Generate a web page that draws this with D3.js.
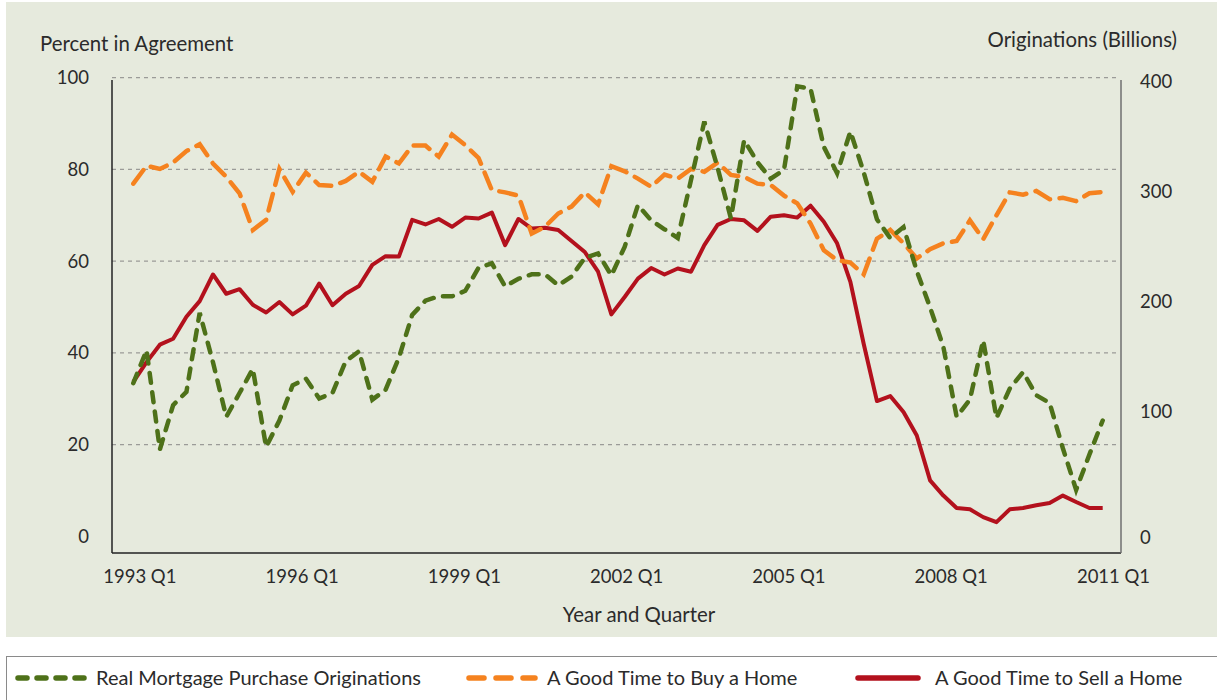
<!DOCTYPE html>
<html>
<head>
<meta charset="utf-8">
<script src="https://cdn.jsdelivr.net/npm/d3@7"></script>
<style>
  body { margin: 0; background: #ffffff; }
  text { font-family: Lato, "Open Sans", sans-serif; fill: #2b2b2b; }
</style>
</head>
<body>
<div id="chart"></div>
<script>
// quarters 1993 Q1 .. 2011 Q2
var years = d3.range(1993, 2012);
var quarters = [];
years.forEach(function(y) {
    [1, 2, 3, 4].forEach(function(q) {
        if (y < 2011 || q <= 2) quarters.push(y + " Q" + q);
    });
});

// Real Mortgage Purchase Originations (billions, right axis)
var originations = [
    126, 156, 70, 106, 118, 190, 145, 96, 117, 139,
    72, 93, 124, 130, 112, 117, 146, 155, 111, 120,
    149, 188, 201, 205, 205, 210, 231, 235, 214, 221,
    225, 225, 215, 223, 240, 244, 224, 250, 288, 274,
    266, 258, 311, 364, 322, 276, 347, 327, 312, 320,
    396, 394, 341, 317, 355, 318, 275, 258, 268, 228,
    195, 159, 96, 111, 165, 95, 121, 136, 115, 108,
    71, 38, 66, 93
];

// A Good Time to Buy a Home (percent)
var buyHome = [
    76.9, 80.8, 80.1, 81.5, 84.0, 85.5, 81.3, 78.4, 74.8, 66.8,
    69.0, 80.1, 75.1, 79.3, 76.6, 76.4, 77.5, 79.5, 77.3, 82.8,
    81.3, 85.2, 85.2, 82.8, 87.6, 85.3, 82.5, 75.5, 75.0, 74.3,
    66.0, 67.5, 70.4, 71.9, 75.0, 72.4, 80.7, 79.6, 78.0, 76.2,
    78.9, 78.0, 80.1, 79.5, 81.5, 78.8, 78.4, 76.9, 76.6, 74.3,
    72.6, 68.2, 62.4, 60.2, 59.7, 57.1, 64.9, 66.8, 63.9, 60.6,
    62.6, 63.9, 64.4, 68.9, 64.8, 70.0, 75.0, 74.5, 75.3, 73.5,
    73.8, 73.1, 74.8, 75.1
];

// A Good Time to Sell a Home (percent)
var sellHome = [
    33.7, 38.0, 41.8, 43.1, 47.9, 51.3, 57.1, 52.9, 53.9, 50.5,
    48.8, 51.1, 48.4, 50.3, 55.1, 50.4, 52.9, 54.6, 59.2, 61.1,
    61.0, 69.0, 68.0, 69.2, 67.5, 69.5, 69.3, 70.6, 63.5, 69.2,
    67.1, 67.3, 66.8, 64.4, 62.0, 57.7, 48.4, 52.2, 56.2, 58.5,
    57.1, 58.4, 57.7, 63.5, 67.9, 69.2, 68.9, 66.6, 69.7, 70.0,
    69.5, 72.1, 68.6, 63.9, 55.5, 42.0, 29.5, 30.6, 27.1, 22.0,
    12.2, 8.9, 6.2, 5.9, 4.2, 3.1, 5.9, 6.2, 6.8, 7.3,
    8.9, 7.5, 6.2, 6.2
];

var leftTicks = [0, 20, 40, 60, 80, 100];
var rightTicks = [0, 100, 200, 300, 400];
var xTickYears = [1993, 1996, 1999, 2002, 2005, 2008, 2011];

var seriesNames = [
    "Real Mortgage Purchase Originations",
    "A Good Time to Buy a Home",
    "A Good Time to Sell a Home"
];

makePlot();

function makePlot() {
    var svgWidth = 1217;
    var svgHeight = 700;

    var green = "#4e7119";
    var orange = "#f5821f";
    var red = "#b3111d";

    var svg = d3.select("#chart")
        .append("svg")
        .attr("width", svgWidth)
        .attr("height", svgHeight);

    // panel background
    svg.append("rect")
        .attr("x", 6)
        .attr("y", 2)
        .attr("width", svgWidth - 6)
        .attr("height", 635)
        .attr("fill", "#e6eadd");

    var plotLeft = 112, plotRight = 1121, plotTop = 80, plotBottom = 553;

    var xScale = d3.scalePoint()
        .domain(quarters)
        .range([133.3, 1102.7]);

    // label positions of the year axis
    var xLabelScale = d3.scaleLinear()
        .domain([1993, 2011])
        .range([139.3, 1113]);

    var yLeft = d3.scaleLinear()
        .domain([0, 100])
        .range([536.4, 77.7]);

    var yRight = d3.scaleLinear()
        .domain([0, 100, 400])
        .range([537.7, 411.7, 82]);

    // gridlines
    svg.append("g")
        .selectAll("line")
        .data(leftTicks.filter(d => d > 0))
        .enter()
        .append("line")
        .attr("x1", plotLeft)
        .attr("x2", 1119)
        .attr("y1", d => yLeft(d))
        .attr("y2", d => yLeft(d))
        .attr("stroke", "#9b9b98")
        .attr("stroke-width", 1.2)
        .attr("stroke-dasharray", "4,4");

    // axis lines
    svg.append("line")
        .attr("x1", plotLeft).attr("x2", plotLeft)
        .attr("y1", plotTop).attr("y2", plotBottom)
        .attr("stroke", "#222").attr("stroke-width", 1.5);
    svg.append("line")
        .attr("x1", plotLeft).attr("x2", plotRight)
        .attr("y1", plotBottom).attr("y2", plotBottom)
        .attr("stroke", "#222").attr("stroke-width", 1.5);
    svg.append("line")
        .attr("x1", plotRight).attr("x2", plotRight)
        .attr("y1", plotTop).attr("y2", plotBottom)
        .attr("stroke", "#6f6f6f").attr("stroke-width", 1.5);

    // tick labels
    var leftAxis = d3.axisLeft(yLeft).tickValues(leftTicks).tickSize(0).tickPadding(0);
    var gl = svg.append("g").attr("transform", "translate(89,0)").call(leftAxis);

    var rightAxis = d3.axisRight(yRight).tickValues(rightTicks).tickSize(0).tickPadding(0);
    var gr = svg.append("g").attr("transform", "translate(1140,0)").call(rightAxis);

    var bottomAxis = d3.axisBottom(xLabelScale).tickValues(xTickYears)
        .tickFormat(d => d + " Q1").tickSize(0).tickPadding(0);
    var gb = svg.append("g").attr("transform", "translate(0,570)").call(bottomAxis);

    [gl, gr, gb].forEach(function(g) {
        g.select(".domain").remove();
        g.selectAll("text")
            .style("font-family", "Lato, 'Open Sans', sans-serif")
            .style("font-size", "18.5px")
            .attr("fill", "#2b2b2b");
    });

    // axis titles
    svg.append("text")
        .attr("x", 40).attr("y", 51)
        .style("font-size", "20.4px")
        .text("Percent in Agreement");
    svg.append("text")
        .attr("x", 1177).attr("y", 47)
        .attr("text-anchor", "end")
        .style("font-size", "20.4px")
        .text("Originations (Billions)");
    svg.append("text")
        .attr("x", 639).attr("y", 622)
        .attr("text-anchor", "middle")
        .style("font-size", "20.4px")
        .text("Year and Quarter");

    var lineLeft = d3.line()
        .x((d, i) => xScale(quarters[i]))
        .y(d => yLeft(d));
    var lineRight = d3.line()
        .x((d, i) => xScale(quarters[i]))
        .y(d => yRight(d));

    svg.append("path")
        .datum(sellHome)
        .attr("d", lineLeft)
        .attr("fill", "none")
        .attr("stroke", red)
        .attr("stroke-width", 4)
        .attr("stroke-linejoin", "round");

    svg.append("path")
        .datum(buyHome)
        .attr("d", lineLeft)
        .attr("fill", "none")
        .attr("stroke", orange)
        .attr("stroke-width", 4.5)
        .attr("stroke-linecap", "round")
        .attr("stroke-dasharray", "17,9.5");

    svg.append("path")
        .datum(originations)
        .attr("d", lineRight)
        .attr("fill", "none")
        .attr("stroke", green)
        .attr("stroke-width", 4.5)
        .attr("stroke-linecap", "round")
        .attr("stroke-dasharray", "10,9.5");

    // legend
    svg.append("rect")
        .attr("x", 6.5)
        .attr("y", 656.5)
        .attr("width", svgWidth)
        .attr("height", 60)
        .attr("fill", "#ffffff")
        .attr("stroke", "#8a8a8a")
        .attr("stroke-width", 1);

    var legendItems = [
        { name: seriesNames[0], color: green, dash: "9,10", x: 18 },
        { name: seriesNames[1], color: orange, dash: "15,12", x: 469 },
        { name: seriesNames[2], color: red, dash: null, x: 858 }
    ];

    var legend = svg.append("g")
        .selectAll("g")
        .data(legendItems)
        .enter()
        .append("g")
        .attr("transform", d => `translate(${d.x}, 678)`);

    legend.append("line")
        .attr("x1", 0)
        .attr("x2", d => d.dash ? 66 : 60)
        .attr("y1", 0).attr("y2", 0)
        .attr("stroke", d => d.color)
        .attr("stroke-width", 5.5)
        .attr("stroke-linecap", "round")
        .attr("stroke-dasharray", d => d.dash);

    legend.append("text")
        .attr("x", d => d.dash ? 78 : 77)
        .attr("dy", "0.35em")
        .style("font-size", "20px")
        .text(d => d.name);
}
</script>
</body>
</html>
